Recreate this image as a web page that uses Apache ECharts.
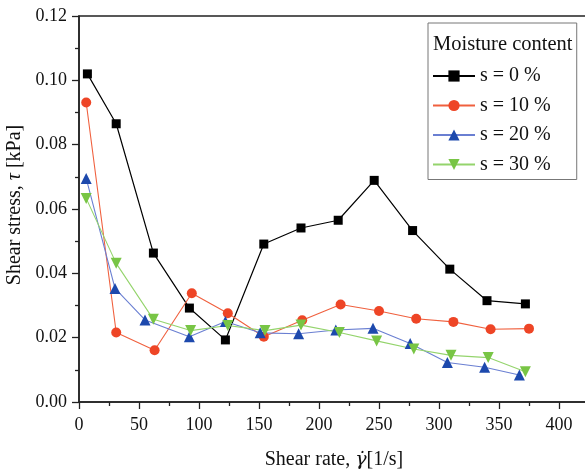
<!DOCTYPE html>
<html>
<head>
<meta charset="utf-8">
<script src="https://cdn.jsdelivr.net/npm/echarts@6/dist/echarts.min.js"></script>
<style>
html,body{margin:0;padding:0;background:#fff;}
#chart{width:585px;height:470px;}
</style>
</head>
<body>
<div id="chart"></div>
<script>
const seriesNames = ['s = 0 %', 's = 10 %', 's = 20 %', 's = 30 %'];
const x0 = [7, 31, 62, 92, 122, 154, 185, 216, 246, 278, 309, 340, 372];
const y0 = [0.102, 0.0865, 0.0463, 0.0292, 0.0193, 0.0491, 0.0541, 0.0565, 0.0689, 0.0533, 0.0413, 0.0315, 0.0305];
const x10 = [6, 31, 63, 94, 124, 154, 186, 218, 250, 281, 312, 343, 375];
const y10 = [0.0931, 0.0216, 0.0161, 0.0338, 0.0276, 0.0203, 0.0254, 0.0303, 0.0283, 0.0259, 0.0249, 0.0226, 0.0228];
const x20 = [6, 30, 55, 92, 122, 151, 183, 214, 245, 276, 307, 338, 367];
const y20 = [0.0695, 0.0353, 0.0255, 0.0203, 0.0250, 0.0215, 0.0212, 0.0224, 0.0229, 0.0182, 0.0123, 0.0108, 0.0084];
const x30 = [6, 31, 62, 93, 124, 155, 185, 217, 248, 279, 310, 341, 372];
const y30 = [0.0633, 0.0431, 0.0257, 0.0222, 0.0238, 0.0222, 0.0239, 0.0216, 0.0190, 0.0165, 0.0145, 0.0138, 0.0094];
const xMajorTicks = [0, 50, 100, 150, 200, 250, 300, 350, 400];
const xMinorTicks = [25, 75, 125, 175, 225, 275, 325, 375];

const FONT = "'Liberation Serif', 'Times New Roman', serif";
function pairs(xs, ys) { return xs.map((x, i) => [x, ys[i]]); }

const chart = echarts.init(document.getElementById('chart'), null, {renderer: 'canvas'});
const option = {
  backgroundColor: '#ffffff',
  animation: false,
  textStyle: {fontFamily: FONT},
  title: {
    text: 'Moisture content',
    left: 433, top: 34,
    padding: 0,
    textStyle: {fontFamily: FONT, fontSize: 20.5, fontWeight: 'normal', color: '#111'}
  },
  legend: {
    data: seriesNames,
    orient: 'vertical',
    left: 428, top: 23,
    padding: [43, 26, 5, 4],
    itemWidth: 42, itemHeight: 14, itemGap: 9.5,
    borderColor: '#777', borderWidth: 1,
    textStyle: {fontFamily: FONT, fontSize: 20, color: '#111'}
  },
  grid: {
    left: 79, top: 16, width: 510, height: 386,
    outerBoundsMode: 'none', containLabel: false,
    show: true, borderColor: '#222', borderWidth: 1.5, backgroundColor: 'transparent'
  },
  xAxis: [{
    type: 'value', min: 0, max: 425, interval: 50,
    name: 'Shear rate, {i|γ̇}[1/s]', nameLocation: 'middle', nameGap: 48,
    nameTextStyle: {fontFamily: FONT, fontSize: 20, color: '#111',
      rich: {i: {fontFamily: "'DejaVu Serif', 'Liberation Serif', serif", fontSize: 19, fontStyle: 'italic', color: '#111'}}},
    axisLine: {lineStyle: {color: '#222', width: 1.5}},
    axisTick: {show: true, inside: false, length: 7, customValues: xMajorTicks, lineStyle: {color: '#222', width: 1.3}},
    axisLabel: {customValues: xMajorTicks, fontFamily: FONT, fontSize: 18, color: '#111', margin: 14},
    splitLine: {show: false}
  }, {
    type: 'value', min: 0, max: 425, position: 'bottom',
    axisLine: {show: false},
    axisTick: {show: true, inside: false, length: 4, customValues: xMinorTicks, lineStyle: {color: '#222', width: 1.3}},
    axisLabel: {show: false},
    splitLine: {show: false}
  }],
  yAxis: {
    type: 'value', min: 0, max: 0.12, interval: 0.02,
    name: 'Shear stress, {i|τ} [kPa]', nameLocation: 'middle', nameGap: 51, nameRotate: 90,
    nameTextStyle: {fontFamily: FONT, fontSize: 20, color: '#111', padding: [0, 0, 0, 8],
      rich: {i: {fontFamily: FONT, fontSize: 20, fontStyle: 'italic', color: '#111'}}},
    axisLine: {show: true, lineStyle: {color: '#222', width: 1.5}},
    axisTick: {show: true, inside: false, length: 7, lineStyle: {color: '#222', width: 1.3}},
    minorTick: {show: true, splitNumber: 2, length: 4, lineStyle: {color: '#222', width: 1.3}},
    axisLabel: {fontFamily: FONT, fontSize: 18, color: '#111', margin: 12, formatter: v => v.toFixed(2)},
    splitLine: {show: false}
  },
  series: [{
    name: seriesNames[0], type: 'line', data: pairs(x0, y0),
    symbol: 'rect', symbolSize: 9,
    itemStyle: {color: '#000'}, lineStyle: {color: '#000', width: 1.2}
  }, {
    name: seriesNames[1], type: 'line', data: pairs(x10, y10),
    symbol: 'circle', symbolSize: 10,
    itemStyle: {color: '#ee4526'}, lineStyle: {color: '#f0603e', width: 1.1}
  }, {
    name: seriesNames[2], type: 'line', data: pairs(x20, y20),
    symbol: 'triangle', symbolSize: 11,
    itemStyle: {color: '#1d49ad'}, lineStyle: {color: '#6a7fd2', width: 1.1}
  }, {
    name: seriesNames[3], type: 'line', data: pairs(x30, y30),
    symbol: 'triangle', symbolSize: 11, symbolRotate: 180,
    itemStyle: {color: '#78c545'}, lineStyle: {color: '#94d46c', width: 1.1}
  }]
};
chart.setOption(option);
</script>
</body>
</html>
